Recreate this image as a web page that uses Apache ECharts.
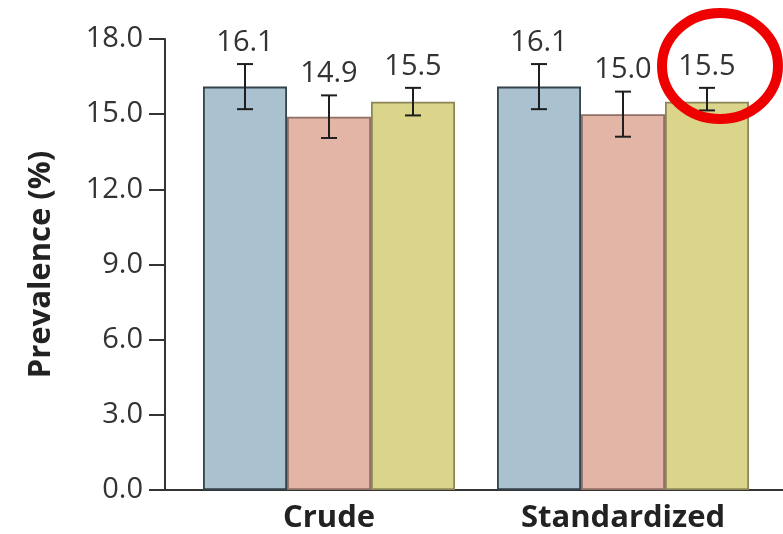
<!DOCTYPE html>
<html><head><meta charset="utf-8">
<script src="https://cdn.jsdelivr.net/npm/echarts@6/dist/echarts.min.js"></script>
<style>html,body{margin:0;padding:0;background:#fff}#c{width:783px;height:534px}</style>
</head><body><div id="c"></div>
<script>
const categories = ['Crude', 'Standardized'];
const yTicks = [0, 3, 6, 9, 12, 15, 18];
const seriesNames = ['Group 1', 'Group 2', 'Group 3'];
const valuesBlue = [16.1, 16.1];
const valuesRed = [14.9, 15.0];
const valuesYellow = [15.5, 15.5];
const lowBlue = [15.2, 15.2];
const highBlue = [17.0, 17.0];
const lowRed = [14.05, 14.1];
const highRed = [15.75, 15.9];
const lowYellow = [14.95, 15.15];
const highYellow = [16.05, 16.05];
const yAxisTitle = 'Prevalence (%)';

const FONT = "'Open Sans', 'Liberation Sans', sans-serif";
const BAR_W = 84;
const fills = ['#aac1cf', '#e2b5a7', '#dbd58b'];
const borders = ['#34424c', '#8f6f64', '#8d8659'];

const vals = [valuesBlue, valuesRed, valuesYellow];
const lows = [lowBlue, lowRed, lowYellow];
const highs = [highBlue, highRed, highYellow];

function errRender(offset) {
  return function (params, api) {
    const i = api.value(0);
    const c = api.coord([i, api.value(1)]);
    const lo = api.coord([i, api.value(2)]);
    const hi = api.coord([i, api.value(3)]);
    const x = c[0] + offset;
    const cap = 8;
    const ls = { stroke: '#1e1e1e', lineWidth: 2 };
    return {
      type: 'group',
      children: [
        { type: 'line', shape: { x1: x, y1: hi[1], x2: x, y2: lo[1] }, style: ls },
        { type: 'line', shape: { x1: x - cap, y1: hi[1], x2: x + cap, y2: hi[1] }, style: ls },
        { type: 'line', shape: { x1: x - cap, y1: lo[1], x2: x + cap, y2: lo[1] }, style: ls },
        { type: 'text', x: x, y: hi[1] - 7,
          style: { text: api.value(1).toFixed(1), align: 'center', verticalAlign: 'bottom',
                   fontFamily: FONT, fontSize: 29, fill: '#333' } }
      ]
    };
  };
}

const series = [];
for (let s = 0; s < 3; s++) {
  series.push({
    name: seriesNames[s], type: 'bar', xAxisIndex: 1, yAxisIndex: 1,
    data: vals[s], barWidth: BAR_W, barGap: '0%',
    itemStyle: { color: fills[s], borderColor: borders[s], borderWidth: 1.8 },
    z: 2
  });
}
for (let s = 0; s < 3; s++) {
  series.push({
    type: 'custom', xAxisIndex: 1, yAxisIndex: 1, z: 5,
    renderItem: errRender((s - 1) * BAR_W),
    data: categories.map((c, i) => [i, vals[s][i], lows[s][i], highs[s][i]])
  });
}

const chart = echarts.init(document.getElementById('c'), null, { renderer: 'canvas' });
chart.setOption({
  animation: false,
  backgroundColor: '#fff',
  grid: [
    { left: 165, right: 0, top: 39, bottom: 44 },
    { left: 182, width: 588, top: 39, bottom: 44 }
  ],
  xAxis: [
    { gridIndex: 0, type: 'value', min: 0, max: 1,
      axisLine: { show: true, lineStyle: { color: '#333', width: 2 } },
      axisTick: { show: false }, axisLabel: { show: false }, splitLine: { show: false } },
    { gridIndex: 1, type: 'category', data: categories,
      axisLine: { show: false }, axisTick: { show: false },
      axisLabel: { margin: 13, fontFamily: FONT, fontWeight: 'bold', fontSize: 31, color: '#222' } }
  ],
  yAxis: [
    { gridIndex: 0, type: 'value', min: yTicks[0], max: yTicks[yTicks.length - 1],
      interval: yTicks[1] - yTicks[0],
      name: yAxisTitle, nameLocation: 'middle', nameGap: 108,
      nameTextStyle: { fontFamily: FONT, fontWeight: 'bold', fontSize: 31, color: '#222' },
      axisLine: { show: true, lineStyle: { color: '#333', width: 2 } },
      axisTick: { show: true, length: 16, lineStyle: { color: '#333', width: 2 } },
      axisLabel: { margin: 22, formatter: v => v.toFixed(1), fontFamily: FONT, fontSize: 29, color: '#333' },
      splitLine: { show: false } },
    { gridIndex: 1, type: 'value', min: yTicks[0], max: yTicks[yTicks.length - 1], show: false }
  ],
  series: series,
  graphic: [
    { type: 'ellipse', shape: { cx: 720, cy: 66, rx: 58, ry: 53 },
      style: { fill: 'none', stroke: '#ee0000', lineWidth: 10 }, z: 100 }
  ]
});
</script>
</body></html>
